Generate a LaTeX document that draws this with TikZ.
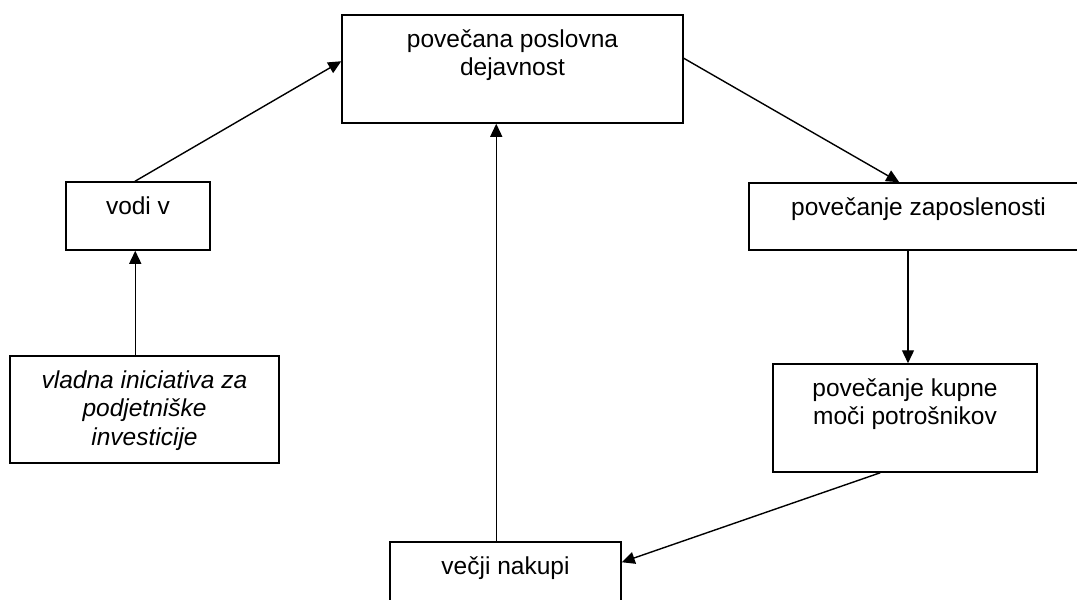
\documentclass[tikz,border=0pt]{standalone}
\usepackage{fontspec}
\setmainfont{Liberation Sans}
\usetikzlibrary{arrows.meta,calc}

\tikzset{
  box/.style={draw=black, line width=1.5pt, fill=white, inner sep=0pt, rectangle},
  txt/.style={anchor=north, align=center, inner sep=0pt,
              font=\fontsize{24.5}{28.3}\selectfont},
  link/.style={draw=black, line width=1.4pt,
               -{Triangle[length=13pt,width=12pt]}},
}

\begin{document}
\begin{tikzpicture}[x=1pt,y=-1pt]
  \clip (0,0) rectangle (1077,600);
  \fill[white] (0,0) rectangle (1077,600);

  % boxes (centre, width, height)
  \node[box, minimum width=341pt, minimum height=108pt] (posl)   at (512.5,69)   {};
  \node[box, minimum width=144pt, minimum height=68pt]  (vodi)   at (138,216)    {};
  \node[box, minimum width=339pt, minimum height=67pt]  (zap)    at (918.5,216.5){};
  \node[box, minimum width=269pt, minimum height=107pt] (vlada)  at (144.5,409.5){};
  \node[box, minimum width=264pt, minimum height=108pt] (kupna)  at (905,418)    {};
  \node[box, minimum width=231pt, minimum height=78pt]  (nakupi) at (505.5,581)  {};

  % texts, first baseline 33 below each box top
  \node[txt] (tposl)   at ($(posl.north)+(0,13.4)$)   {\strut povečana poslovna\\dejavnost};
  \node[txt] (tvodi)   at ($(vodi.north)+(0,13.4)$)   {\strut vodi v};
  \node[txt] (tzap)    at ($(zap.north)+(0,13.4)$)    {\strut povečanje zaposlenosti};
  \node[txt, font=\fontsize{24.5}{28.3}\selectfont\itshape]
             (tvlada)  at ($(vlada.north)+(0,13.4)$)  {\strut vladna iniciativa za\\podjetniške\\investicije};
  \node[txt] (tkupna)  at ($(kupna.north)+(0,13.4)$)  {\strut povečanje kupne\\moči potrošnikov};
  \node[txt] (tnakupi) at ($(nakupi.north)+(0,13.4)$) {\strut večji nakupi};

  % connectors
  \coordinate (vlUp) at ($(vodi.north west)+(70,0)$);
  \draw[link] (vlUp |- vlada.north) -- (vlUp |- vodi.south);
  \draw[link] ($(vodi.north)+(-3,0)$) -- ($(posl.north west)+(0,47)$);
  \draw[link] ($(posl.north east)+(0,44)$) -- ($(zap.north west)+(151,0)$);
  \coordinate (zkDown) at ($(kupna.north)+(3,0)$);
  \draw[link] (zkDown |- zap.south) -- (zkDown);
  \draw[link] ($(kupna.south west)+(108,0)$) -- ($(nakupi.north east)+(0,21)$);
  \coordinate (nkUp) at ($(nakupi.north west)+(107,0)$);
  \draw[link] (nkUp) -- (nkUp |- posl.south);
\end{tikzpicture}
\end{document}
